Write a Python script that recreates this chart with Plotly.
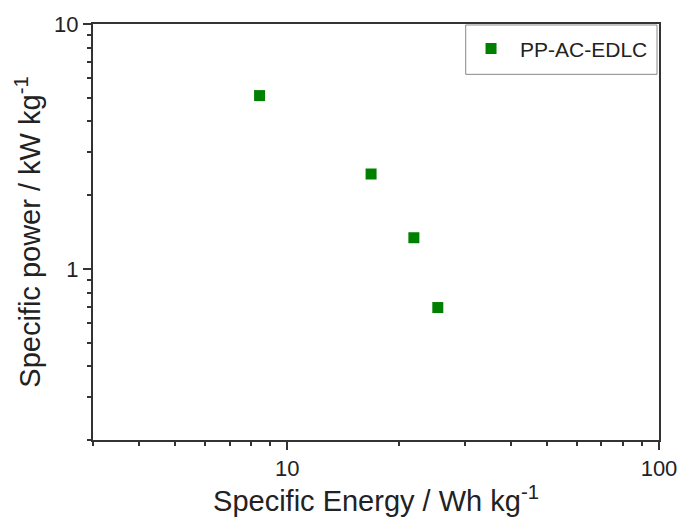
import plotly.graph_objects as go

energy = [8.42, 16.8, 21.9, 25.4]
power = [5.10, 2.44, 1.34, 0.695]
series_name = "PP-AC-EDLC"

x_major = [10, 100]
x_minor = [3, 4, 5, 6, 7, 8, 9, 20, 30, 40, 50, 60, 70, 80, 90]
y_major = [1, 10]
y_minor = [0.2, 0.3, 0.4, 0.5, 0.6, 0.7, 0.8, 0.9, 2, 3, 4, 5, 6, 7, 8, 9]

FONT = "Liberation Sans, Arial, sans-serif"

fig = go.Figure()
fig.add_trace(go.Scatter(
    x=energy, y=power, mode="markers", name=series_name,
    marker=dict(symbol="square", size=11, color="#008000"),
))

axis_common = dict(
    type="log", showline=True, linecolor="#333333", linewidth=2, mirror=True,
    ticks="outside", ticklen=8, tickwidth=2, tickcolor="#333333",
    showgrid=False, zeroline=False,
    tickfont=dict(family=FONT, size=22, color="#222222"),
    title_font=dict(family=FONT, size=29, color="#222222"),
)

fig.update_xaxes(
    **axis_common,
    range=[0.4771, 2],
    tickmode="array", tickvals=x_major, ticktext=[str(v) for v in x_major],
    minor=dict(tickmode="array", tickvals=x_minor, ticks="outside", ticklen=4,
               tickwidth=2, tickcolor="#333333", showgrid=False),
    title_text="Specific Energy / Wh kg<sup>-1</sup>", title_standoff=3,
)
fig.update_yaxes(
    **axis_common,
    range=[-0.699, 1],
    tickmode="array", tickvals=y_major, ticktext=[str(v) for v in y_major],
    minor=dict(tickmode="array", tickvals=y_minor, ticks="outside", ticklen=4,
               tickwidth=2, tickcolor="#333333", showgrid=False),
    title_text="Specific power / kW kg<sup>-1</sup>", title_standoff=5,
)

fig.update_layout(
    width=689, height=517,
    margin=dict(l=93, r=22, t=23, b=72),
    plot_bgcolor="white", paper_bgcolor="white",
    showlegend=True,
    legend=dict(
        x=0.652, y=0.94, xanchor="left", yanchor="middle",
        borderwidth=0, bgcolor="rgba(0,0,0,0)",
        font=dict(family=FONT, size=21, color="#222222"),
        itemwidth=48,
    ),
    shapes=[dict(
        type="rect", xref="paper", yref="paper",
        x0=0.6585, x1=0.9965, y0=0.879, y1=0.9976,
        line=dict(color="#888888", width=1), fillcolor="rgba(0,0,0,0)",
        layer="below",
    )],
)

fig.write_html("out.html")
